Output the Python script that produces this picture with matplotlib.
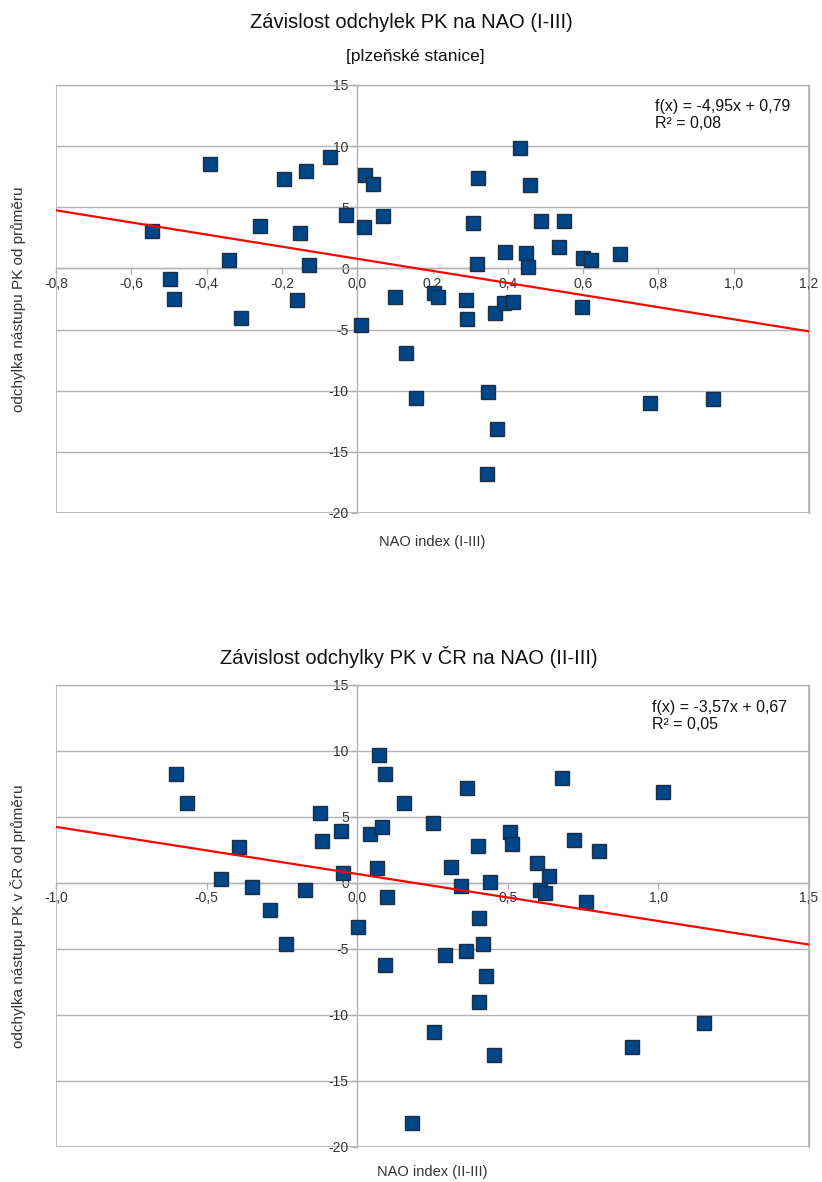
import matplotlib
matplotlib.use("Agg")
import matplotlib.pyplot as plt
import numpy as np
from matplotlib.ticker import FuncFormatter, MultipleLocator
from matplotlib.patches import Rectangle

plt.rcParams['font.family'] = ['Liberation Sans', 'DejaVu Sans']

# ---- Chart 1 data: NAO index (I-III) vs. PK deviation (Plzeň stations)
nao1 = [-0.390, -0.071, -0.137, -0.195, 0.022, 0.041, -0.031, 0.069, 0.019, -0.257,
        -0.151, -0.545, -0.341, -0.128, -0.498, -0.487, -0.159, -0.308, 0.011, 0.100,
        0.130, 0.157, 0.204, 0.214, 0.290, 0.292, 0.366, 0.389, 0.414, 0.598,
        0.347, 0.779, 0.946, 0.372, 0.345, 0.432, 0.321, 0.458, 0.308, 0.487,
        0.549, 0.392, 0.449, 0.536, 0.600, 0.621, 0.699, 0.319, 0.453]
dev1 = [8.56, 9.08, 7.99, 7.34, 7.61, 6.88, 4.35, 4.27, 3.37, 3.51,
        2.88, 3.10, 0.73, 0.27, -0.90, -2.53, -2.61, -4.08, -4.62, -2.34,
        -6.88, -10.60, -1.98, -2.34, -2.58, -4.10, -3.62, -2.85, -2.75, -3.13,
        -10.14, -11.01, -10.71, -13.16, -16.80, 9.84, 7.40, 6.85, 3.73, 3.86,
        3.86, 1.36, 1.28, 1.77, 0.87, 0.65, 1.14, 0.38, 0.14]
slope1, intercept1, r2_1 = -4.95, 0.79, 0.08

# ---- Chart 2 data: NAO index (II-III) vs. PK deviation (Czech Republic)
nao2 = [-0.601, -0.564, 0.074, 0.093, 0.154, -0.125, -0.053, -0.117, -0.391, 0.043,
        0.083, 0.251, 0.065, -0.046, -0.453, -0.348, -0.174, 0.099, -0.289, -0.237,
        0.004, 0.091, 0.292, 0.254, 0.182, 0.362, 0.403, 0.418, 0.429, 0.403,
        0.453, 0.913, 1.151, 0.760, 0.680, 1.016, 0.364, 0.508, 0.514, 0.400,
        0.719, 0.804, 0.312, 0.597, 0.638, 0.440, 0.346, 0.608, 0.625]
dev2 = [8.22, 6.02, 9.66, 8.27, 6.07, 5.31, 3.95, 3.16, 2.73, 3.67,
        4.25, 4.50, 1.14, 0.76, 0.30, -0.30, -0.55, -1.06, -2.07, -4.65,
        -3.34, -6.27, -5.49, -11.30, -18.18, -5.16, -2.70, -4.68, -7.05, -9.03,
        -13.07, -12.49, -10.67, -1.44, 7.92, 6.88, 7.16, 3.87, 2.91, 2.78,
        3.22, 2.43, 1.17, 1.52, 0.51, 0.08, -0.23, -0.55, -0.76]
slope2, intercept2, r2_2 = -3.57, 0.67, 0.05

GRAY = '#b3b3b3'
MARKER = '#004586'
EDGE = '#1c2f44'


def comma(v, decimals):
    s = f"{v:.{decimals}f}"
    return s.replace('.', ',')


def style_axes(ax, xlim, xstep, ylim=(-20, 15)):
    ax.set_xlim(*xlim)
    ax.set_ylim(*ylim)
    ax.xaxis.set_major_locator(MultipleLocator(xstep))
    ax.yaxis.set_major_locator(MultipleLocator(5))
    ax.xaxis.set_major_formatter(FuncFormatter(lambda v, p: comma(v, 1)))
    ax.yaxis.set_major_formatter(FuncFormatter(lambda v, p: f"{int(round(v))}"))
    ax.spines['left'].set_position(('data', 0))
    ax.spines['bottom'].set_position(('data', 0))
    for sp in ax.spines.values():
        sp.set_color(GRAY)
        sp.set_linewidth(1.0)
    ax.add_patch(Rectangle((0, 0), 1, 1, transform=ax.transAxes, fill=False,
                           edgecolor=GRAY, linewidth=1.2, zorder=0.5))
    ax.grid(axis='y', color=GRAY, linewidth=1.0)
    ax.set_axisbelow(True)
    ax.tick_params(axis='both', colors=GRAY, labelcolor='#333333', labelsize=10,
                   length=4, width=1, direction='out')
    ax.tick_params(axis='y', pad=2)
    ax.tick_params(axis='x', pad=2)


fig = plt.figure(figsize=(8.22, 11.82), dpi=100)

# ---------------- Chart 1
ax1 = fig.add_axes([56 / 822, 1 - 513 / 1182, 753 / 822, 428 / 1182])
style_axes(ax1, (-0.8, 1.2), 0.2)
ax1.plot(nao1, dev1, linestyle='none', marker='s', markersize=9.5,
         markerfacecolor=MARKER, markeredgecolor=EDGE, markeredgewidth=1.0, zorder=3)
xl = np.array(ax1.get_xlim())
ax1.plot(xl, slope1 * xl + intercept1, color='#ff0000', linewidth=1.6, zorder=4)
ax1.text(0.795, 0.967, f"f(x) = {comma(slope1, 2)}x + {comma(intercept1, 2)}\nR² = {comma(r2_1, 2)}",
         transform=ax1.transAxes, ha='left', va='top', fontsize=11.5, color='#111111',
         linespacing=1.15)
ax1.set_xlabel("NAO index (I-III)", fontsize=10.5, color='#333333')
ax1.xaxis.set_label_coords(0.5, -0.051)
ax1.set_ylabel("odchylka nástupu PK od průměru", fontsize=11, color='#333333')
ax1.yaxis.set_label_coords(-0.0405, 0.5)

fig.text(411 / 822, 1 - 22 / 1182, "Závislost odchylek PK na NAO (I-III)",
         ha='center', va='center', fontsize=14.5, color='#111111')
fig.text(415 / 822, 1 - 57 / 1182, "[plzeňské stanice]",
         ha='center', va='center', fontsize=12.5, color='#111111')

# ---------------- Chart 2
ax2 = fig.add_axes([56 / 822, 1 - 1146.5 / 1182, 753 / 822, 461.5 / 1182])
style_axes(ax2, (-1.0, 1.5), 0.5)
ax2.plot(nao2, dev2, linestyle='none', marker='s', markersize=9.5,
         markerfacecolor=MARKER, markeredgecolor=EDGE, markeredgewidth=1.0, zorder=3)
xl2 = np.array(ax2.get_xlim())
ax2.plot(xl2, slope2 * xl2 + intercept2, color='#ff0000', linewidth=1.6, zorder=4)
ax2.text(0.791, 0.967, f"f(x) = {comma(slope2, 2)}x + {comma(intercept2, 2)}\nR² = {comma(r2_2, 2)}",
         transform=ax2.transAxes, ha='left', va='top', fontsize=11.5, color='#111111',
         linespacing=1.15)
ax2.set_xlabel("NAO index (II-III)", fontsize=10.5, color='#333333')
ax2.xaxis.set_label_coords(0.5, -0.040)
ax2.set_ylabel("odchylka nástupu PK v ČR od průměru", fontsize=11, color='#333333')
ax2.yaxis.set_label_coords(-0.0405, 0.5)

fig.text(409 / 822, 1 - 657 / 1182, "Závislost odchylky PK v ČR na NAO (II-III)",
         ha='center', va='center', fontsize=14.5, color='#111111')

fig.savefig("out.png", dpi=100)
